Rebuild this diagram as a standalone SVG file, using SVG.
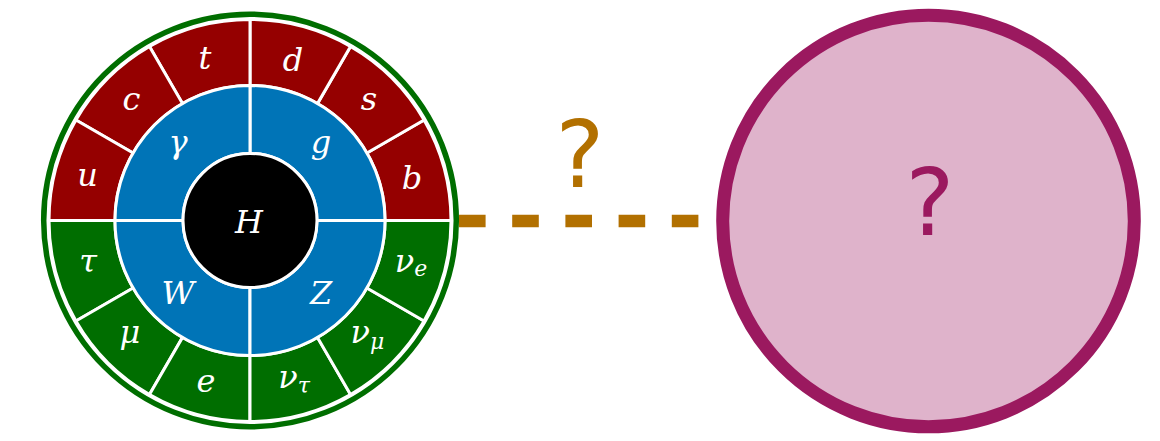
<svg xmlns="http://www.w3.org/2000/svg" width="1160" height="441" viewBox="0 0 1160 441">
<style>
.red{fill:#950000;stroke:#fff;stroke-width:3;stroke-linejoin:miter}
.grn{fill:#006e00;stroke:#fff;stroke-width:3;stroke-linejoin:miter}
.blu{fill:#0074b7;stroke:#fff;stroke-width:3;stroke-linejoin:miter}
.lbl{font-family:'DejaVu Serif',serif;font-style:italic;font-size:32px;fill:#fff;text-anchor:middle}
.sub{font-size:22px}
.q{font-family:'DejaVu Sans',sans-serif;font-size:92px;text-anchor:middle}
</style>
<rect width="1160" height="441" fill="#fff"/>
<g id="connectors">
  <line x1="459" y1="221" x2="699.5" y2="221" stroke="#b27000" stroke-width="12.5" stroke-dasharray="26.6 26.6"/>
  <text class="q" x="580" y="187" fill="#b27000">?</text>
</g>
<g id="wheel">
  <circle id="frame" cx="250" cy="220.5" r="206.3" fill="#fff" stroke="#006e00" stroke-width="5.5"/>
  <g id="b"><path class="red" d="M451,220.5 A201,201 0 0 0 424.07,120 L366.91,153 A135,135 0 0 1 385,220.5 Z"/><text class="lbl" x="412" y="188.5">b</text></g>
  <g id="s"><path class="red" d="M424.07,120 A201,201 0 0 0 350.5,46.43 L317.5,103.59 A135,135 0 0 1 366.91,153 Z"/><text class="lbl" x="369" y="110">s</text></g>
  <g id="d"><path class="red" d="M350.5,46.43 A201,201 0 0 0 250,19.5 L250,85.5 A135,135 0 0 1 317.5,103.59 Z"/><text class="lbl" x="293" y="71">d</text></g>
  <g id="t"><path class="red" d="M250,19.5 A201,201 0 0 0 149.5,46.43 L182.5,103.59 A135,135 0 0 1 250,85.5 Z"/><text class="lbl" x="205" y="69">t</text></g>
  <g id="c"><path class="red" d="M149.5,46.43 A201,201 0 0 0 75.93,120 L133.09,153 A135,135 0 0 1 182.5,103.59 Z"/><text class="lbl" x="131.5" y="110">c</text></g>
  <g id="u"><path class="red" d="M75.93,120 A201,201 0 0 0 49,220.5 L115,220.5 A135,135 0 0 1 133.09,153 Z"/><text class="lbl" x="87.5" y="186">u</text></g>
  <g id="tau"><path class="grn" d="M49,220.5 A201,201 0 0 0 75.93,321 L133.09,288 A135,135 0 0 1 115,220.5 Z"/><text class="lbl" x="88" y="272">τ</text></g>
  <g id="mu"><path class="grn" d="M75.93,321 A201,201 0 0 0 149.5,394.57 L182.5,337.41 A135,135 0 0 1 133.09,288 Z"/><text class="lbl" x="130" y="343">μ</text></g>
  <g id="e"><path class="grn" d="M149.5,394.57 A201,201 0 0 0 250,421.5 L250,355.5 A135,135 0 0 1 182.5,337.41 Z"/><text class="lbl" x="206" y="391.5">e</text></g>
  <g id="nu_tau"><path class="grn" d="M250,421.5 A201,201 0 0 0 350.5,394.57 L317.5,337.41 A135,135 0 0 1 250,355.5 Z"/><text class="lbl" x="294" y="388">ν<tspan class="sub" dy="5">τ</tspan></text></g>
  <g id="nu_mu"><path class="grn" d="M350.5,394.57 A201,201 0 0 0 424.07,321 L366.91,288 A135,135 0 0 1 317.5,337.41 Z"/><text class="lbl" x="367.5" y="343">ν<tspan class="sub" dy="6">μ</tspan></text></g>
  <g id="nu_e"><path class="grn" d="M424.07,321 A201,201 0 0 0 451,220.5 L385,220.5 A135,135 0 0 1 366.91,288 Z"/><text class="lbl" x="411" y="271.5">ν<tspan class="sub" dy="4">e</tspan></text></g>
  <g id="g"><path class="blu" d="M385,220.5 A135,135 0 0 0 250,85.5 L250,153.5 A67,67 0 0 1 317,220.5 Z"/><text class="lbl" x="321" y="153">g</text></g>
  <g id="gamma"><path class="blu" d="M250,85.5 A135,135 0 0 0 115,220.5 L183,220.5 A67,67 0 0 1 250,153.5 Z"/><text class="lbl" x="178" y="153">γ</text></g>
  <g id="W"><path class="blu" d="M115,220.5 A135,135 0 0 0 250,355.5 L250,287.5 A67,67 0 0 1 183,220.5 Z"/><text class="lbl" x="178" y="304">W</text></g>
  <g id="Z"><path class="blu" d="M250,355.5 A135,135 0 0 0 385,220.5 L317,220.5 A67,67 0 0 1 250,287.5 Z"/><text class="lbl" x="321" y="304">Z</text></g>
  <g id="H"><circle cx="250" cy="220.5" r="67" fill="#000" stroke="#fff" stroke-width="3"/><text class="lbl" x="249" y="233">H</text></g>
</g>
<g id="unknown">
  <circle cx="928.5" cy="221" r="205.8" fill="#dfb3cb" stroke="#9b195f" stroke-width="13"/>
  <text class="q" x="930" y="235" fill="#9b195f">?</text>
</g>
</svg>
